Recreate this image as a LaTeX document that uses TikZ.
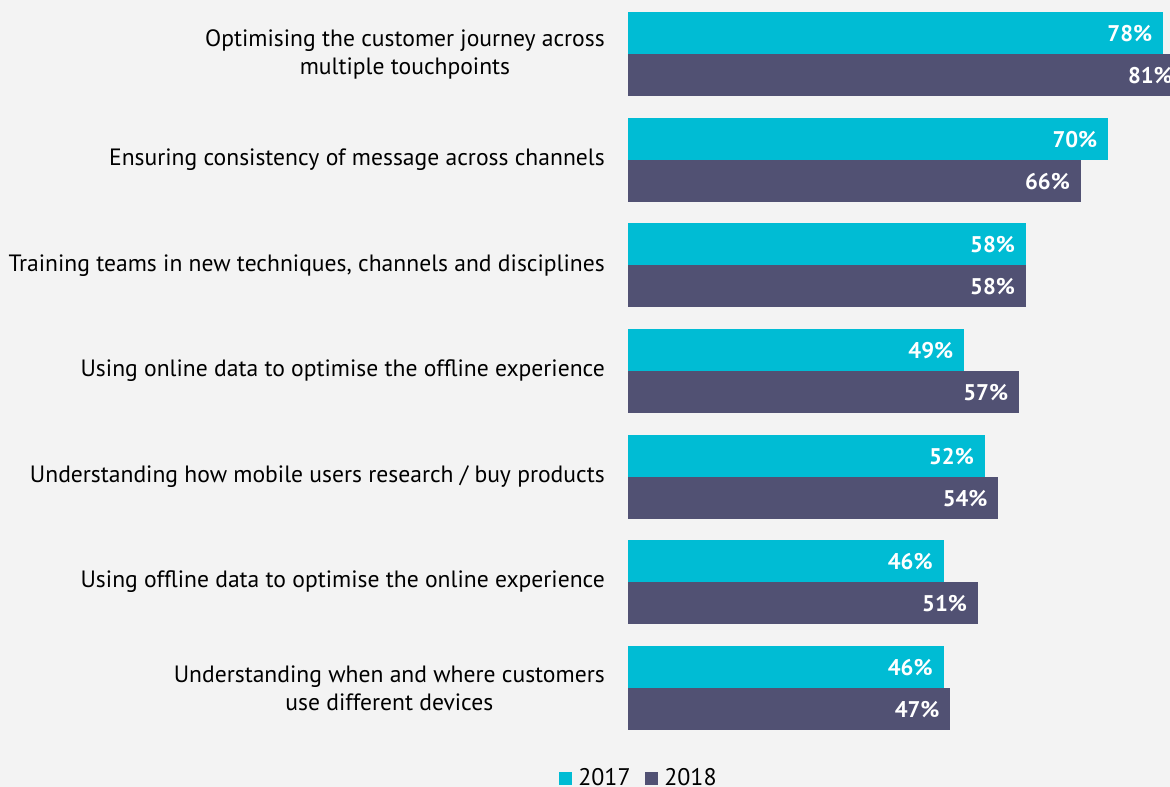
\documentclass[tikz,border=0pt]{standalone}
\usepackage{fontspec}
\setmainfont{PT Sans}
\definecolor{bg}{HTML}{F3F3F3}
\definecolor{cyanbar}{HTML}{00BCD4}
\definecolor{darkbar}{HTML}{515173}
\begin{document}
\begin{tikzpicture}[x=0.75pt,y=-0.75pt,
  bar/.style={rectangle, inner sep=0, outer sep=0, minimum height=31.5pt, anchor=north west},
  c17/.style={bar, fill=cyanbar},
  c18/.style={bar, fill=darkbar},
  val/.style={text=white, font=\bfseries\fontsize{17}{20}\selectfont, anchor=east, inner sep=0, xshift=-8pt, yshift=-0.5pt},
  lab/.style={anchor=east, align=center, font=\fontsize{17.7}{21}\selectfont, inner sep=0},
  leg/.style={rectangle, inner sep=0, minimum size=9.75pt, anchor=south west},
  legt/.style={anchor=base west, inner sep=0, font=\fontsize{18}{21}\selectfont}]
\fill[bg] (0,0) rectangle (1170,787);
\clip (0,0) rectangle (1170,787);
\foreach \a/\b [count=\k from 0] in {78/81,70/66,58/58,49/57,52/54,46/51,46/47}{
  \node[c17, minimum width={\a*5.145pt}] (c\k) at (628,{12+\k*105.67}) {};
  \node[c18, minimum width={\b*5.145pt}] (d\k) at (628,{54+\k*105.67}) {};
  \node[val] (vc\k) at (c\k.east) {\a\%};
  \node[val] (vd\k) at (d\k.east) {\b\%};
}
\node[lab] (l0) at (605,54) {Optimising the customer journey across\\multiple touchpoints};
\node[lab] (l1) at (605,160) {Ensuring consistency of message across channels};
\node[lab] (l2) at (605,266) {Training teams in new techniques, channels and disciplines};
\node[lab] (l3) at (605,371) {Using online data to optimise the offline experience};
\node[lab] (l4) at (605,477) {Understanding how mobile users research / buy products};
\node[lab] (l5) at (605,582) {Using offline data to optimise the online experience};
\node[lab] (l6) at (605,688) {Understanding when and where customers\\use different devices};
\node[leg, fill=cyanbar] (s17) at (559,785) {};
\node[legt] (t17) at (578,785) {2017};
\node[leg, fill=darkbar] (s18) at (645,785) {};
\node[legt] (t18) at (664,785) {2018};
\end{tikzpicture}
\end{document}
